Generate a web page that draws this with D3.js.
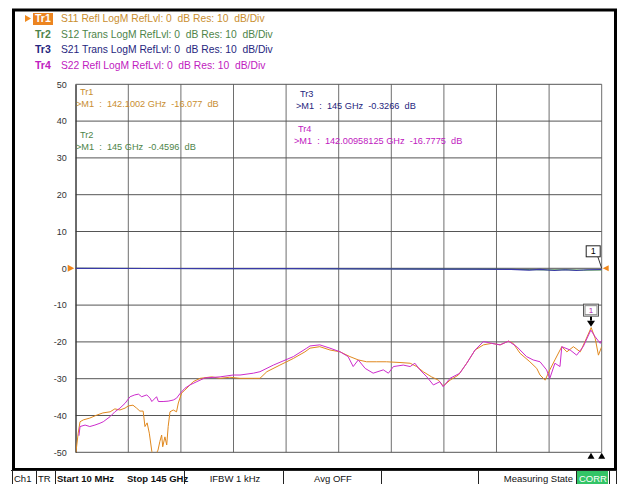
<!DOCTYPE html>
<html>
<head>
<meta charset="utf-8">
<script src="https://cdn.jsdelivr.net/npm/d3@7"></script>
<style>
  body { margin: 0; background: #fff; }
  svg { display: block; font-family: "Liberation Sans", Arial, sans-serif; }
</style>
</head>
<body>
<svg id="chart" width="625" height="484"></svg>
<script>
// ---- data (GHz, dB) ----
const yTicks = [50, 40, 30, 20, 10, 0, -10, -20, -30, -40, -50];
const startGHz = 0.01, stopGHz = 145;

// Tr1 S11 (orange)
const s11Freq = [0.01, 0.7, 1.2, 2.1, 3.9, 5.8, 7.5, 9.5, 10.8, 12.2, 13.6, 14.5, 15.8, 16.8, 17.7, 18.6, 19.1, 19.7, 20.3, 21.0, 21.3, 22.3, 22.7, 23.2, 23.7, 24.0, 24.6, 25.1, 25.5, 26.0, 26.9, 27.8, 28.3, 29.2, 30.1, 32.4, 34.3, 37.5, 39.8, 42.5, 45.3, 49.0, 50.8, 52.7, 56.3, 60.0, 63.2, 64.6, 67.3, 70.1, 72.9, 75.6, 77.9, 80.2, 83.0, 85.7, 89.4, 92.2, 94.0, 95.8, 98.1, 100.0, 101.3, 103.2, 105.5, 107.8, 110.1, 112.4, 114.7, 117.0, 119.3, 120.6, 122.5, 125.2, 127.1, 128.0, 129.4, 130.7, 132.1, 134.0, 135.4, 137.2, 139.1, 140.4, 142.1, 143.2, 144.1, 145];
const s11dB   = [-50.5, -44.8, -41.7, -41.2, -40.7, -39.9, -39.3, -39.0, -38.2, -38.5, -38.0, -37.4, -37.2, -38.0, -38.8, -38.8, -43.0, -42.0, -44.8, -49.8, -51.5, -50.2, -49.4, -47.1, -45.3, -48.5, -45.8, -48.0, -43.0, -39.0, -38.5, -39.0, -36.6, -33.9, -33.1, -30.8, -29.9, -29.5, -29.9, -29.6, -29.9, -29.9, -29.9, -28.1, -26.3, -24.5, -22.7, -21.7, -21.3, -22.2, -22.7, -24.0, -24.9, -25.4, -25.4, -25.4, -25.6, -25.8, -26.7, -28.1, -29.5, -30.4, -32.0, -30.4, -29.0, -25.8, -22.2, -20.8, -20.4, -20.8, -19.8, -20.4, -23.1, -25.4, -27.2, -29.0, -30.4, -27.6, -24.9, -21.3, -22.7, -21.3, -22.7, -19.9, -16.1, -19.0, -23.6, -21.3];

// Tr4 S22 (magenta)
const s22Freq = [0.9, 1.2, 2.6, 3.9, 5.3, 6.7, 7.6, 9.5, 10.8, 12.2, 13.6, 15.0, 16.3, 17.3, 18.2, 19.6, 20.5, 21.0, 22.3, 22.8, 24.1, 25.5, 26.9, 27.8, 28.8, 30.1, 31.5, 33.4, 35.6, 39.8, 43.4, 45.3, 49.0, 50.8, 54.5, 60.0, 63.7, 64.6, 67.3, 70.1, 72.9, 75.1, 76.5, 77.9, 79.8, 82.0, 84.8, 86.2, 87.6, 90.3, 92.2, 93.5, 94.9, 96.8, 98.6, 100.4, 101.3, 103.2, 105.9, 107.8, 110.1, 112.4, 114.7, 117.0, 119.3, 121.6, 124.3, 126.1, 128.0, 129.8, 130.7, 132.1, 133.5, 134.0, 136.3, 138.1, 139.9, 142.0, 143.2, 144.6, 145];
const s22dB   = [-45.5, -43.0, -42.6, -43.0, -42.6, -42.1, -41.7, -40.3, -39.0, -38.0, -36.7, -34.9, -34.4, -34.2, -34.9, -34.4, -35.3, -36.2, -34.9, -36.2, -36.2, -36.1, -35.8, -35.3, -34.0, -32.6, -31.7, -30.8, -29.8, -29.5, -29.0, -29.0, -28.5, -28.1, -26.3, -24.0, -21.7, -21.1, -20.8, -21.7, -22.7, -24.0, -26.7, -24.9, -27.2, -28.5, -27.6, -28.5, -26.7, -26.3, -26.7, -25.8, -27.6, -29.5, -31.7, -30.8, -32.2, -29.9, -28.5, -25.8, -22.2, -19.9, -20.4, -20.8, -19.8, -21.3, -24.0, -24.9, -25.4, -27.6, -29.9, -25.8, -26.7, -21.3, -22.2, -23.6, -21.3, -16.8, -18.6, -20.4, -19.5];

// Tr2 S12 (green) / Tr3 S21 (blue) sit right at 0 dB, blue drawn on top
const s12Freq = [0.01, 20, 40, 60, 80, 100, 115, 125, 130, 135, 140, 145];
const s12dB   = [0, -0.05, -0.1, -0.1, -0.15, -0.2, -0.25, -0.35, -0.45, -0.4, -0.5, -0.46];
const s21Freq = [0.01, 20, 40, 60, 80, 100, 110, 120, 125, 128, 132, 135, 138, 141, 145];
const s21dB   = [0, -0.05, -0.1, -0.1, -0.15, -0.2, -0.2, -0.3, -0.5, -0.3, -0.6, -0.4, -0.6, -0.4, -0.33];

const headerLines = [
  { tr: "Tr1", text: "S11 Refl LogM RefLvl: 0  dB Res: 10  dB/Div", color: "#c98e30" },
  { tr: "Tr2", text: "S12 Trans LogM RefLvl: 0  dB Res: 10  dB/Div", color: "#4d8449" },
  { tr: "Tr3", text: "S21 Trans LogM RefLvl: 0  dB Res: 10  dB/Div", color: "#26267e" },
  { tr: "Tr4", text: "S22 Refl LogM RefLvl: 0  dB Res: 10  dB/Div", color: "#c020c0" }
];
const markerReadouts = [
  { tr: "Tr1", text: ">M1  :  142.1002 GHz  -16.077  dB", color: "#c98e30", x: 76, y: 95 },
  { tr: "Tr2", text: ">M1  :  145 GHz  -0.4596  dB", color: "#4d8449", x: 76, y: 138 },
  { tr: "Tr3", text: ">M1  :  145 GHz  -0.3266  dB", color: "#26267e", x: 296, y: 97 },
  { tr: "Tr4", text: ">M1  :  142.00958125 GHz  -16.7775  dB", color: "#c020c0", x: 294, y: 132 }
];
const statusCells = ["Ch1", "TR", "Start 10 MHz", "Stop 145 GHz", "IFBW 1 kHz", "Avg OFF", "", "Measuring State", "CORR"];

class VnaChart {
  constructor() {
    this.margin = { top: 84.3, right: 23.3, bottom: 31.7, left: 75.7 };
    this.width = 625 - this.margin.left - this.margin.right;
    this.height = 484 - this.margin.top - this.margin.bottom;
    this.initVis();
  }

  initVis() {
    let vis = this;
    vis.root = d3.select('#chart');

    vis.x = d3.scaleLinear().domain([startGHz, stopGHz]).range([0, vis.width]);
    vis.y = d3.scaleLinear().domain([-50, 50]).range([vis.height, 0]);

    // outer black frame of the instrument screen
    vis.root.append('rect')
      .attr('x', 13.5).attr('y', 10).attr('width', 602).attr('height', 459.5)
      .attr('fill', 'none').attr('stroke', '#000').attr('stroke-width', 3);

    vis.svg = vis.root.append('g')
      .attr('transform', `translate(${vis.margin.left}, ${vis.margin.top})`);

    vis.svg.append('clipPath').attr('id', 'plotclip')
      .append('rect').attr('width', vis.width).attr('height', vis.height);

    vis.renderVis();
  }

  renderVis() {
    let vis = this;

    // grid: 10 divisions each way
    const xDivs = d3.range(11).map(i => startGHz + i * (stopGHz - startGHz) / 10);
    vis.svg.append('g').selectAll('line').data(xDivs).join('line')
      .attr('x1', d => vis.x(d)).attr('x2', d => vis.x(d))
      .attr('y1', 0).attr('y2', vis.height)
      .attr('stroke', '#6e6e6e').attr('stroke-width', 1);
    vis.svg.append('g').selectAll('line').data(yTicks).join('line')
      .attr('x1', 0).attr('x2', vis.width)
      .attr('y1', d => vis.y(d)).attr('y2', d => vis.y(d))
      .attr('stroke', '#555').attr('stroke-width', 1);

    // y labels
    const yAxis = d3.axisLeft(vis.y).tickValues(yTicks).tickSize(0).tickPadding(9)
      .tickFormat(d => d);
    const yG = vis.svg.append('g').call(yAxis);
    yG.select('.domain').attr('stroke', '#333');
    yG.selectAll('text').attr('font-size', 9).attr('fill', '#333')
      .attr('font-family', '"Liberation Sans", Arial, sans-serif');

    const line = d3.line().x(d => vis.x(d[0])).y(d => vis.y(d[1]));
    const traces = vis.svg.append('g').attr('clip-path', 'url(#plotclip)');
    const pair = (f, v) => f.map((d, i) => [d, v[i]]);

    traces.append('path').datum(pair(s12Freq, s12dB))
      .attr('d', line).attr('fill', 'none').attr('stroke', '#3f8a3f').attr('stroke-width', 1);
    traces.append('path').datum(pair(s21Freq, s21dB))
      .attr('d', line).attr('fill', 'none').attr('stroke', '#3a3aa8').attr('stroke-width', 1.2);
    traces.append('path').datum(pair(s11Freq, s11dB))
      .attr('d', line).attr('fill', 'none').attr('stroke', '#e0881e').attr('stroke-width', 1);
    traces.append('path').datum(pair(s22Freq, s22dB))
      .attr('d', line).attr('fill', 'none').attr('stroke', '#cc2ccc').attr('stroke-width', 1);

    // reference level arrows at 0 dB
    const y0 = vis.y(0);
    vis.svg.append('path')
      .attr('d', `M${-8},${y0 - 3.5}L${-1.5},${y0}L${-8},${y0 + 3.5}Z`).attr('fill', '#f0861a');
    vis.svg.append('path')
      .attr('d', `M${vis.width + 7},${y0 - 3}L${vis.width + 1},${y0}L${vis.width + 7},${y0 + 3}Z`)
      .attr('fill', '#f0861a');

    // marker flags
    const mx = vis.x(stopGHz);
    vis.svg.append('line')
      .attr('x1', mx - 4).attr('y1', y0 - 12).attr('x2', mx).attr('y2', y0)
      .attr('stroke', '#333');
    vis.svg.append('rect')
      .attr('x', mx - 15.5).attr('y', y0 - 22.5).attr('width', 14).attr('height', 11)
      .attr('fill', '#fff').attr('stroke', '#222');
    vis.svg.append('text')
      .attr('x', mx - 8.5).attr('y', y0 - 14).attr('text-anchor', 'middle')
      .attr('font-size', 9).attr('fill', '#000').text('1');

    const pkx = vis.x(142.05), pky = vis.y(-16.4);
    vis.svg.append('rect')
      .attr('x', pkx - 7.5).attr('y', pky - 24.5).attr('width', 15).attr('height', 12)
      .attr('fill', '#fff').attr('stroke', '#555');
    vis.svg.append('rect')
      .attr('x', pkx - 6).attr('y', pky - 23).attr('width', 12).attr('height', 9)
      .attr('fill', 'none').attr('stroke', '#888');
    vis.svg.append('text')
      .attr('x', pkx).attr('y', pky - 15.5).attr('text-anchor', 'middle')
      .attr('font-size', 8).attr('fill', '#b020b0').text('1');
    vis.svg.append('line')
      .attr('x1', pkx).attr('y1', pky - 12).attr('x2', pkx).attr('y2', pky - 8)
      .attr('stroke', '#000').attr('stroke-width', 2);
    vis.svg.append('path')
      .attr('d', `M${pkx - 4},${pky - 8}L${pkx + 4},${pky - 8}L${pkx},${pky - 2}Z`).attr('fill', '#000');

    // marker position triangles on the bottom edge
    vis.svg.append('g').selectAll('path').data([142.05, stopGHz]).join('path')
      .attr('d', d => `M${vis.x(d) - 3.5},${vis.height + 6.5}L${vis.x(d) + 3.5},${vis.height + 6.5}L${vis.x(d)},${vis.height + 0.5}Z`)
      .attr('fill', '#000');

    // marker readouts
    const ro = vis.root.append('g').attr('font-size', 9.2);
    markerReadouts.forEach(m => {
      ro.append('text').attr('x', m.x + 4).attr('y', m.y).attr('fill', m.color).text(m.tr);
      ro.append('text').attr('x', m.x).attr('y', m.y + 12).attr('fill', m.color)
        .style('white-space', 'pre').text(m.text);
    });

    // trace header
    const hd = vis.root.append('g');
    hd.append('path').attr('d', 'M25,15L31,18.5L25,22Z').attr('fill', '#f08a1e');
    hd.append('rect').attr('x', 33).attr('y', 13).attr('width', 20).attr('height', 12).attr('fill', '#ec8420');
    headerLines.forEach((h, i) => {
      const yy = 22 + i * 15.5;
      hd.append('text').attr('x', 35).attr('y', yy)
        .attr('font-size', 10.5).attr('font-weight', 'bold')
        .attr('fill', i === 0 ? '#fff' : h.color).text(h.tr);
      hd.append('text').attr('x', 61).attr('y', yy)
        .attr('font-size', 10.3).attr('fill', h.color)
        .style('white-space', 'pre').text(h.text);
    });

    // status bar
    const cellEdges = [12, 36, 55, 184, 283, 381, 478, 576, 609, 616];
    const sb = vis.root.append('g');
    sb.append('rect').attr('x', 11).attr('y', 470).attr('width', 605).attr('height', 14)
      .attr('fill', '#fff');
    sb.append('rect').attr('x', 576).attr('y', 470.5).attr('width', 32).attr('height', 13.5)
      .attr('fill', '#33c466');
    sb.append('g').selectAll('line').data(cellEdges).join('line')
      .attr('x1', d => d + 0.5).attr('x2', d => d + 0.5).attr('y1', 470).attr('y2', 484)
      .attr('stroke', '#222');
    sb.append('line').attr('x1', 11).attr('x2', 616).attr('y1', 470.5).attr('y2', 470.5).attr('stroke', '#222');

    const statusPos = [
      { x: 14, a: 'start', w: 'normal' }, { x: 38, a: 'start', w: 'normal' },
      { x: 57, a: 'start', w: 'bold' }, { x: 127, a: 'start', w: 'bold' },
      { x: 235, a: 'middle', w: 'normal' }, { x: 333, a: 'middle', w: 'normal' },
      { x: 527, a: 'middle', w: 'normal' }, { x: 573, a: 'end', w: 'normal' },
      { x: 593, a: 'middle', w: 'normal' }
    ];
    sb.append('g').selectAll('text').data(statusCells).join('text')
      .attr('x', (d, i) => statusPos[i].x).attr('y', 481.5)
      .attr('text-anchor', (d, i) => statusPos[i].a)
      .attr('font-weight', (d, i) => statusPos[i].w)
      .attr('font-size', 9.5)
      .attr('fill', d => d === 'CORR' ? '#fff' : '#111')
      .text(d => d);
  }
}

new VnaChart();
</script>
</body>
</html>
